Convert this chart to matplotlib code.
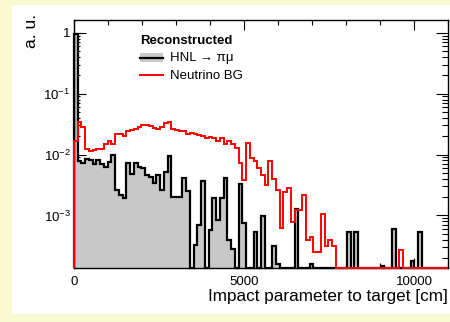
import matplotlib
matplotlib.use("Agg")
import matplotlib.pyplot as plt
import numpy as np
from matplotlib.patches import Rectangle
from matplotlib.lines import Line2D
from matplotlib.ticker import FixedLocator, FixedFormatter, MultipleLocator, LogLocator, NullFormatter

plt.rcParams["font.family"] = ["Liberation Sans", "DejaVu Sans"]
plt.rcParams["mathtext.default"] = "regular"

# --- data: 100 bins from 0 to 11000 cm ---
bin_edges = np.linspace(0, 11000, 101)

hnl = [
    0.95, 0.0078, 0.0074, 0.0086, 0.0081, 0.0070, 0.0081, 0.0070, 0.0062, 0.0076,
    0.0098, 0.0026, 0.0022, 0.0019, 0.0072, 0.0048, 0.0072, 0.0063, 0.0059, 0.0047,
    0.0043, 0.0034, 0.0046, 0.0026, 0.0052, 0.0093, 0.0020, 0.0020, 0.0020, 0.0041,
    0.0025, 0, 0.00033, 0.0007, 0.0037, 0, 0.00058, 0.0019, 0.00085, 0.0019,
    0.0041, 0.0004, 0.00028, 0, 0.0033, 0.00076, 0, 0, 0.00053, 0,
    0.00097, 0, 0, 0.00031, 0.00016, 0, 0, 0, 0, 0.00127,
    0, 0, 0, 0.00016, 0, 0, 0, 0, 0, 0,
    0, 0, 0, 0.00054, 0, 0.00054, 0, 0, 0, 0,
    0, 0, 0.00015, 0, 0, 0.00059, 0, 0, 0, 0,
    0.00018, 0, 0.00054, 0, 0, 0, 0, 0, 0, 0,
]

nu_bg = [
    0.0165, 0.034, 0.028, 0.0122, 0.0115, 0.0118, 0.0122, 0.0125, 0.0151, 0.0165,
    0.015, 0.022, 0.022, 0.020, 0.024, 0.025, 0.026, 0.028, 0.031, 0.030,
    0.029, 0.027, 0.026, 0.028, 0.033, 0.034, 0.026, 0.025, 0.024, 0.024,
    0.022, 0.023, 0.022, 0.021, 0.020, 0.0185, 0.0195, 0.0185, 0.017, 0.0184,
    0.0147, 0.017, 0.0147, 0.0126, 0.0072, 0.0038, 0.0153, 0.0089, 0.0078, 0.0059,
    0.0046, 0.0032, 0.0079, 0.0039, 0.0026, 0.00063, 0.00245, 0.0028, 0.00079, 0.00123,
    0.00123, 0.00216, 0.00039, 0.00045, 0.00025, 0.00025, 0.00105, 0.00031, 0.00039, 0.00031,
    0, 0, 0, 0, 0, 0, 0, 0, 0, 0,
    0, 0, 0, 0, 0, 0, 0, 0.00027, 0, 0,
    0, 0, 0, 0, 0, 0, 0, 0, 0, 0,
]

x_ticks = [0, 5000, 10000]
x_ticklabels = ["0", "5000", "10000"]
y_ticks = [1e-3, 1e-2, 1e-1, 1]
y_ticklabels = ["$10^{-3}$", "$10^{-2}$", "$10^{-1}$", "1"]
x_label = "Impact parameter to target [cm]"
y_label = "a. u."
legend_header = "Reconstructed"
legend_hnl = "HNL \u2192 \u03c0\u03bc"
legend_nu = "Neutrino BG"

W, H = 450, 322
y_min, y_max = 1.37e-4, 1.62


def fx(px):
    return px / W


def fy(py):
    return 1 - py / H


fig = plt.figure(figsize=(W / 100, H / 100), dpi=100)
fig.patch.set_facecolor("#fafad2")
fig.add_artist(Rectangle((fx(12), fy(314)), (W - 12) / W, (314 - 5) / H,
                         transform=fig.transFigure, facecolor="white", edgecolor="none", zorder=0))

ax = fig.add_axes([fx(74), fy(268), (448 - 74) / W, (268 - 20) / H])
ax.set_yscale("log")

# zero bins are drawn along the frame bottom, as ROOT does
hnl_plot = np.maximum(np.array(hnl), y_min)
nu_plot = np.maximum(np.array(nu_bg), y_min)
ax.stairs(hnl_plot, bin_edges, baseline=y_min, fill=True, facecolor="#c8c8c8", edgecolor="none", zorder=2)
ax.stairs(hnl_plot, bin_edges, baseline=y_min, color="black", lw=1.6, zorder=3, clip_on=False)
ax.stairs(nu_plot, bin_edges, baseline=y_min, color="red", lw=1.4, zorder=4, clip_on=False)

ax.set_xlim(0, 11000)
ax.set_ylim(y_min, y_max)

ax.xaxis.set_major_locator(FixedLocator(x_ticks))
ax.xaxis.set_major_formatter(FixedFormatter(x_ticklabels))
ax.xaxis.set_minor_locator(MultipleLocator(1000))
ax.yaxis.set_major_locator(FixedLocator(y_ticks))
ax.yaxis.set_major_formatter(FixedFormatter(y_ticklabels))
ax.yaxis.set_minor_locator(LogLocator(base=10, subs=np.arange(2, 10)))
ax.yaxis.set_minor_formatter(NullFormatter())

ax.tick_params(which="both", direction="in", top=True, right=True, width=0.8, labelsize=9.5)
ax.tick_params(axis="x", which="major", length=7, pad=5.5)
ax.tick_params(axis="x", which="minor", length=3.6)
ax.tick_params(axis="y", which="major", length=8.5, pad=2.5)
ax.tick_params(axis="y", which="minor", length=4.3)
for s in ax.spines.values():
    s.set_linewidth(1.0)

# axis titles placed like ROOT: right-aligned to the frame ends
fig.text(fx(447.5), fy(296), x_label, fontsize=12.3, ha="right", va="center")
fig.text(fx(31), fy(14), y_label, fontsize=12.5, rotation=90, ha="center", va="top")

# legend (ROOT style, no frame)
fig.text(fx(140), fy(43.5), legend_header, fontsize=9.5, fontweight="bold", va="baseline")
fig.add_artist(Rectangle((fx(140), fy(61.5)), (163 - 140) / W, 8 / H, transform=fig.transFigure,
                         facecolor="#c8c8c8", edgecolor="none"))
fig.add_artist(Line2D([fx(140), fx(163)], [fy(57.5), fy(57.5)], transform=fig.transFigure, color="black", lw=1.6))
fig.text(fx(170), fy(60.7), legend_hnl, fontsize=9.5, va="baseline")
fig.add_artist(Line2D([fx(140), fx(163)], [fy(74.5), fy(74.5)], transform=fig.transFigure, color="red", lw=1.4))
fig.text(fx(170), fy(79.3), legend_nu, fontsize=9.5, va="baseline")

fig.savefig("out.png", dpi=100, facecolor=fig.get_facecolor())
